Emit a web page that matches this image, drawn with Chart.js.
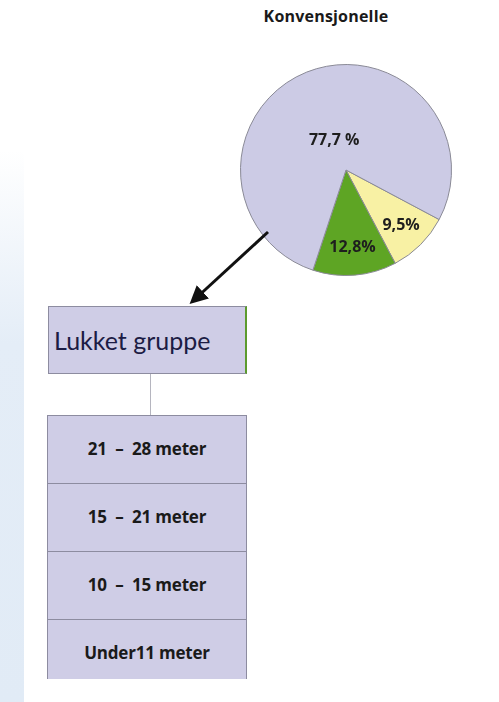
<!DOCTYPE html>
<html>
<head>
<meta charset="utf-8">
<script src="https://cdn.jsdelivr.net/npm/chart.js@4.4.0/dist/chart.umd.min.js"></script>
<style>
  html, body { margin: 0; padding: 0; background: #fff; }
  body { width: 499px; height: 702px; position: relative; overflow: hidden; font-family: "Open Sans", sans-serif; }
  #strip { position: absolute; left: 0; top: 150px; width: 24px; height: 552px;
           background: linear-gradient(to bottom, rgba(225,235,246,0), #e4edf7 35%, #e1ebf6); }
  #title { position: absolute; left: 226px; top: 5px; width: 200px; text-align: center;
           font: bold 16px "Open Sans", sans-serif; color: #1a1a1a; letter-spacing: 0.2px; }
  #pieWrap { position: absolute; left: 230px; top: 54px; width: 232px; height: 232px; }
  #arrow { position: absolute; left: 0; top: 0; }
  .box { position: absolute; background: #cfcde6; border: 1px solid #8d8ca0; box-sizing: border-box; }
  #group { left: 48px; top: 306px; width: 199px; height: 68px; border-right: 2px solid #5c9a2e;
           font: 25px Lato, "Open Sans", sans-serif; color: #1c1c44; padding-left: 5px; line-height: 66px; }
  #link { position: absolute; left: 150px; top: 374px; width: 1px; height: 41px; background: #b5b5bf; }
  .size { left: 47px; width: 200px; height: 68px; text-align: center; white-space: pre;
          font: bold 17px "Open Sans", sans-serif; line-height: 66px; color: #1a1a1a; letter-spacing: -0.2px; }
</style>
</head>
<body>
<div id="strip"></div>
<div id="title">Konvensjonelle</div>
<div id="pieWrap"><canvas id="pie" width="232" height="232"></canvas></div>
<svg id="arrow" width="499" height="702">
  <defs>
    <marker id="head" markerWidth="6" markerHeight="6" refX="4" refY="3" orient="auto">
      <path d="M0,0 L6,3 L0,6 z" fill="#111"/>
    </marker>
  </defs>
  <line x1="268" y1="232" x2="194" y2="300" stroke="#111" stroke-width="3" marker-end="url(#head)"/>
</svg>
<div id="group" class="box"></div>
<div id="link"></div>
<div id="sizes"></div>
<script>
// Data
const sliceNames = ['Gul', 'Grønn', 'Lilla'];
const shares = [9.5, 12.8, 77.7];
const shareLabels = ['9,5%', '12,8%', '77,7 %'];
const groupName = 'Lukket gruppe';
const sizeClasses = ['21  –  28 meter', '15  –  21 meter', '10  –  15 meter', 'Under11 meter'];

// Styles
const sliceColors = ['#f8f1a4', '#5ea524', '#cccbe5'];
const labelRadius = [0.74, 0.74, 0.3];

document.getElementById('group').textContent = groupName;
const sizesEl = document.getElementById('sizes');
sizeClasses.forEach((txt, i) => {
    const d = document.createElement('div');
    d.className = 'box size';
    d.style.top = (415 + i * 68) + 'px';
    d.style.height = (i === sizeClasses.length - 1 ? 60 : 69) + 'px';
    if (i === sizeClasses.length - 1) d.style.borderBottom = 'none';
    d.textContent = txt;
    sizesEl.appendChild(d);
});

const ctx = document.getElementById('pie').getContext('2d');
new Chart(ctx, {
    type: 'pie',
    data: {
        labels: sliceNames,
        datasets: [{
            data: shares,
            backgroundColor: sliceColors,
            borderColor: '#8a8a96',
            borderWidth: 1
        }]
    },
    options: {
        responsive: false,
        animation: false,
        rotation: 118,
        layout: { padding: 10 },
        plugins: { legend: { display: false }, tooltip: { enabled: false } }
    },
    plugins: [{
        afterDraw: function(chart) {
            const c = chart.ctx;
            const meta = chart.getDatasetMeta(0);
            meta.data.forEach((arc, i) => {
                const angle = (arc.startAngle + arc.endAngle) / 2;
                const r = arc.outerRadius * labelRadius[i];
                c.save();
                c.fillStyle = '#1e1e1e';
                c.font = 'bold 16px "Open Sans", sans-serif';
                c.textAlign = 'center';
                c.textBaseline = 'middle';
                c.fillText(shareLabels[i], arc.x + Math.cos(angle) * r, arc.y + Math.sin(angle) * r);
                c.restore();
            });
        }
    }]
});
</script>
</body>
</html>
